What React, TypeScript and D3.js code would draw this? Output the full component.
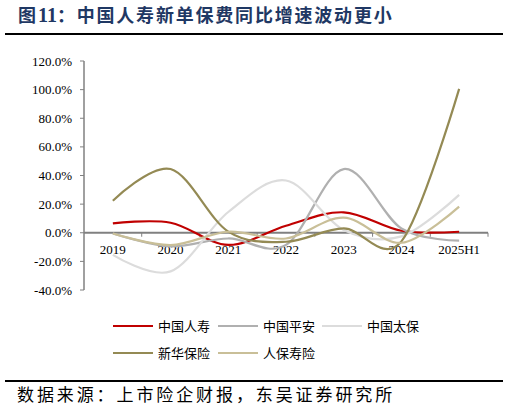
import { useEffect, useRef } from "react";
import * as d3 from "d3";

const categories = ["2019", "2020", "2021", "2022", "2023", "2024", "2025H1"];

// 新单保费同比增速 (%)
const chinaLife = [6.6, 7.0, -8.5, 4.9, 14.3, 1.4, 0.7];
const pingAn = [-0.5, -9.5, -4.0, -8.5, 44.5, 3.0, -5.5];
const cpic = [-15.5, -27.0, 14.5, 36.5, 2.0, -2.5, 26.5];
const nci = [22.4, 44.5, 0.8, -6.3, 3.0, -6.0, 100.5];
const picc = [-0.5, -8.6, 0.7, -4.0, 10.5, -7.0, 18.3];

const yTicks = [-40, -20, 0, 20, 40, 60, 80, 100, 120];

const seriesNames = ["中国人寿", "中国平安", "中国太保", "新华保险", "人保寿险"];
const seriesColors = ["#c00000", "#b0b0b0", "#dcdcdc", "#948a54", "#c9bf98"];

const W = 509, H = 413;
const SERIF = "'Liberation Serif', 'Times New Roman', serif";
const CJK = "'Noto Sans CJK SC', sans-serif";

export default function App() {
  const svgRef = useRef<SVGSVGElement | null>(null);

  useEffect(() => {
    if (!svgRef.current) return;
    const svg = d3.select(svgRef.current);
    svg.selectAll("*").remove();

    const seriesValues = [chinaLife, pingAn, cpic, nci, picc];

    const plot = { left: 84, right: 488, top: 61, bottom: 290 };
    const x = d3.scaleBand().domain(categories).range([plot.left, plot.right]).padding(0);
    const y = d3.scaleLinear().domain([-40, 120]).range([plot.bottom, plot.top]);
    const cx = (c: string) => (x(c) ?? 0) + x.bandwidth() / 2;

    // title
    const title = svg.append("text").attr("x", 18).attr("y", 22)
      .attr("font-size", 18).attr("font-weight", 700).attr("fill", "#1f3864");
    title.append("tspan").attr("font-family", CJK).text("图");
    title.append("tspan").attr("font-family", SERIF).attr("font-size", 20).attr("dx", 2).text("11");
    title.append("tspan").attr("font-family", CJK).attr("letter-spacing", 1.8)
      .text("：中国人寿新单保费同比增速波动更小");

    svg.append("line").attr("x1", 5).attr("x2", 503).attr("y1", 34).attr("y2", 34)
      .attr("stroke", "#000").attr("stroke-width", 2);

    // y axis
    svg.append("line").attr("x1", plot.left).attr("x2", plot.left)
      .attr("y1", y(120)).attr("y2", y(-40))
      .attr("stroke", "#808080").attr("stroke-width", 1.5);
    yTicks.forEach((t) => {
      svg.append("line").attr("x1", plot.left - 4).attr("x2", plot.left)
        .attr("y1", y(t)).attr("y2", y(t)).attr("stroke", "#808080").attr("stroke-width", 1);
      svg.append("text").attr("x", 72).attr("y", y(t) + 4.5)
        .attr("text-anchor", "end").attr("font-family", SERIF).attr("font-size", 13)
        .attr("fill", "#000").text(`${t.toFixed(1)}%`);
    });

    // x axis at zero
    svg.append("line").attr("x1", plot.left).attr("x2", plot.right)
      .attr("y1", y(0)).attr("y2", y(0)).attr("stroke", "#808080").attr("stroke-width", 2);
    categories.forEach((c, i) => {
      const bx = (x(c) ?? 0) + x.bandwidth();
      svg.append("line").attr("x1", bx).attr("x2", bx)
        .attr("y1", y(0)).attr("y2", y(0) + 4).attr("stroke", "#808080").attr("stroke-width", 1);
      svg.append("text").attr("x", cx(c)).attr("y", 254)
        .attr("text-anchor", "middle").attr("font-family", SERIF).attr("font-size", 13)
        .attr("fill", "#000").text(categories[i]);
    });

    // lines
    const line = d3.line<number>()
      .x((_, i) => cx(categories[i]))
      .y((d) => y(d))
      .curve(d3.curveCardinal.tension(0));

    seriesValues.forEach((vals, i) => {
      svg.append("path").datum(vals).attr("d", line as any)
        .attr("fill", "none").attr("stroke", seriesColors[i]).attr("stroke-width", 2.2)
        .attr("stroke-linejoin", "round");
    });

    // legend
    const legendPos = [
      { lx: 113, ly: 326 }, { lx: 218, ly: 326 }, { lx: 322, ly: 326 },
      { lx: 113, ly: 353 }, { lx: 218, ly: 353 },
    ];
    seriesNames.forEach((name, i) => {
      const p = legendPos[i];
      svg.append("line").attr("x1", p.lx).attr("x2", p.lx + 40)
        .attr("y1", p.ly).attr("y2", p.ly)
        .attr("stroke", seriesColors[i]).attr("stroke-width", 2.2);
      svg.append("text").attr("x", p.lx + 45).attr("y", p.ly + 4.5)
        .attr("font-family", CJK).attr("font-size", 13).attr("fill", "#000").text(name);
    });

    // footer
    svg.append("line").attr("x1", 5).attr("x2", 503).attr("y1", 381).attr("y2", 381)
      .attr("stroke", "#000").attr("stroke-width", 2);
    svg.append("text").attr("x", 17).attr("y", 401)
      .attr("font-family", CJK).attr("font-size", 17).attr("letter-spacing", 2.9).attr("fill", "#000")
      .text("数据来源：上市险企财报，东吴证券研究所");
  }, []);

  return (
    <svg ref={svgRef} width={W} height={H}
      style={{ display: "block", position: "absolute", left: 0, top: 0, background: "#fff" }} />
  );
}
